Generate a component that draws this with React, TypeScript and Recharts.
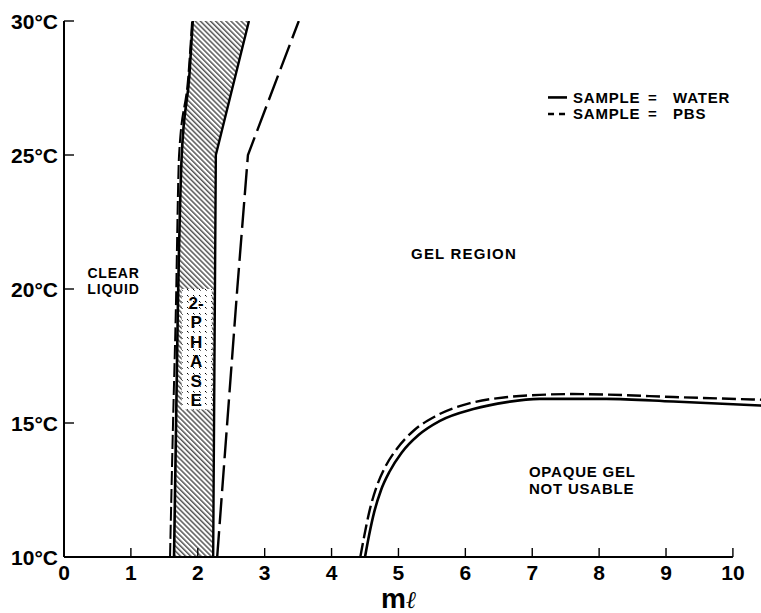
import React from 'react';
import { ScatterChart, Scatter, XAxis, YAxis, ReferenceLine, ReferenceDot } from 'recharts';

// ---- data ----
const xTicks = [0, 1, 2, 3, 4, 5, 6, 7, 8, 9, 10];
const yTicks = [10, 15, 20, 25, 30];

// clear liquid / 2-phase boundary
const waterLeft = [
  { x: 1.645, y: 10 }, { x: 1.7, y: 19 }, { x: 1.76, y: 25 }, { x: 1.875, y: 28 }, { x: 1.925, y: 30 },
];
const pbsLeft = [
  { x: 1.585, y: 10 }, { x: 1.63, y: 15 }, { x: 1.67, y: 19 }, { x: 1.72, y: 25 }, { x: 1.86, y: 28 }, { x: 1.915, y: 30 },
];
// 2-phase / gel boundary
const waterRight = [{ x: 2.23, y: 10 }, { x: 2.27, y: 25 }, { x: 2.765, y: 30 }];
const pbsRight = [{ x: 2.29, y: 10 }, { x: 2.59, y: 20 }, { x: 2.75, y: 25 }, { x: 3.51, y: 30 }];
// gel / opaque gel boundary
const waterOpaque = [
  { x: 4.5, y: 10 }, { x: 4.56, y: 10.8 }, { x: 4.64, y: 11.7 }, { x: 4.74, y: 12.5 }, { x: 4.87, y: 13.2 },
  { x: 5.05, y: 13.9 }, { x: 5.3, y: 14.55 }, { x: 5.62, y: 15.08 }, { x: 6.12, y: 15.52 }, { x: 6.62, y: 15.78 },
  { x: 7.11, y: 15.9 }, { x: 8.11, y: 15.9 }, { x: 9.11, y: 15.8 }, { x: 10.42, y: 15.65 },
];
const pbsOpaque = [
  { x: 4.43, y: 10 }, { x: 4.49, y: 10.8 }, { x: 4.57, y: 11.75 }, { x: 4.67, y: 12.6 }, { x: 4.8, y: 13.35 },
  { x: 4.98, y: 14.05 }, { x: 5.23, y: 14.72 }, { x: 5.55, y: 15.25 }, { x: 6.07, y: 15.74 }, { x: 6.6, y: 15.96 },
  { x: 7.11, y: 16.05 }, { x: 7.6, y: 16.08 }, { x: 8.11, y: 16.06 }, { x: 9.11, y: 15.97 }, { x: 10.42, y: 15.87 },
];
// "2-PHASE" label box extents
const boxX = [1.76, 2.21];
const boxY = [15.5, 20];

const phaseLetters = ['2-', 'P', 'H', 'A', 'S', 'E'];
const clearLines = ['CLEAR', 'LIQUID'];
const gelLines = ['GEL REGION'];
const opaqueLines = ['OPAQUE GEL', 'NOT USABLE'];
const legendRows = [
  { name: 'SAMPLE', value: 'WATER', dash: false },
  { name: 'SAMPLE', value: 'PBS', dash: true },
];

// derived polygons
const hatchPoly = [...waterLeft, ...waterRight.slice().reverse()];
const boxPoly = [
  { x: boxX[0], y: boxY[0] }, { x: boxX[1], y: boxY[0] }, { x: boxX[1], y: boxY[1] }, { x: boxX[0], y: boxY[1] },
];

const FONT = '"Liberation Sans", Arial, Helvetica, sans-serif';
const NARROW = '"Liberation Sans Narrow", "Arial Narrow", "Liberation Sans", Arial, sans-serif';

const NoShape = () => <g />;

const polygonLine = (fill: string) => (p: any) => {
  const pts = p.points || [];
  if (!pts.length) return <g />;
  const d = pts.map((pt: any, i: number) => `${i ? 'L' : 'M'}${pt.x},${pt.y}`).join('') + 'Z';
  return <path d={d} fill={fill} stroke="none" />;
};

const multiLine = (lines: string[], anchor: 'start' | 'middle', gap: number, size = 15, spacing = 0.8) => (props: any) => {
  const vb = props.viewBox || {};
  const cx = vb.x + (vb.width || 0) / 2;
  const cy = vb.y + (vb.height || 0) / 2;
  const top = cy - ((lines.length - 1) * gap) / 2;
  return (
    <text fontFamily={FONT} fontWeight="bold" fontSize={size} fill="#000" textAnchor={anchor} letterSpacing={spacing}>
      {lines.map((l, i) => (
        <tspan key={i} x={cx} y={top + i * gap + size * 0.36}>{l}</tspan>
      ))}
    </text>
  );
};

const legendContent = (props: any) => {
  const vb = props.viewBox || {};
  const x0 = vb.x + (vb.width || 0) / 2;
  const cy = vb.y + (vb.height || 0) / 2;
  const gap = 16.5;
  return (
    <g>
      {legendRows.map((r, i) => {
        const y = cy - gap / 2 + i * gap;
        return (
          <g key={i}>
            <line x1={x0} x2={x0 + (r.dash ? 17 : 19)} y1={y} y2={y} stroke="#000" strokeWidth={2.6}
              strokeDasharray={r.dash ? '6 5' : undefined} />
            <text fontFamily={FONT} fontWeight="bold" fontSize={15} fill="#000" y={y + 5.4} letterSpacing={0.8}>
              <tspan x={x0 + 25}>{r.name}</tspan>
              <tspan x={x0 + 100}>=</tspan>
              <tspan x={x0 + 125}>{r.value}</tspan>
            </text>
          </g>
        );
      })}
    </g>
  );
};

const mlContent = (props: any) => {
  const vb = props.viewBox || {};
  const cx = vb.x + (vb.width || 0) / 2;
  const cy = vb.y + (vb.height || 0) / 2;
  return (
    <text x={cx} y={cy + 5} textAnchor="middle" fill="#000" fontFamily={FONT} fontSize={28}>
      <tspan fontWeight="bold">m</tspan>
      <tspan fontStyle="italic" fontFamily='"DejaVu Serif", serif' fontSize={24}>ℓ</tspan>
    </text>
  );
};

const XTick = (p: any) => (
  <g>
    <line x1={p.x} x2={p.x} y1={p.y} y2={p.y - 9} stroke="#000" strokeWidth={1.4} />
    <text x={p.x} y={p.y + 23} textAnchor="middle" fontFamily={NARROW} fontWeight="bold" fontSize={21} fill="#000">
      {p.payload.value}
    </text>
  </g>
);

const YTick = (p: any) => (
  <g>
    <line x1={p.x} x2={p.x + 10} y1={p.y} y2={p.y} stroke="#000" strokeWidth={1.4} />
    <text x={p.x - 6} y={p.y + 7.5} textAnchor="end" fontFamily={FONT} fontWeight="bold" fontSize={21} fill="#000">
      {`${p.payload.value}°C`}
    </text>
  </g>
);

export default function App() {
  return (
    <div style={{ position: 'absolute', left: 0, top: 0, width: 761, height: 613, background: '#fff' }}>
      <ScatterChart width={761} height={613} margin={{ top: 21, right: 0, bottom: 0, left: 0 }}>
        <defs>
          <pattern id="hatch" patternUnits="userSpaceOnUse" width={3.6} height={3.6} patternTransform="rotate(-45)">
            <line x1={0.8} y1={0} x2={0.8} y2={3.6} stroke="#000" strokeWidth={1} />
          </pattern>
          <pattern id="dots" patternUnits="userSpaceOnUse" width={6} height={6}>
            <rect width={6} height={6} fill="#fff" />
            <line x1={1} y1={1} x2={2.6} y2={2.6} stroke="#000" strokeWidth={1} />
          </pattern>
        </defs>
        <XAxis type="number" dataKey="x" domain={[0, 10.42]} ticks={xTicks} allowDataOverflow
          axisLine={false} tickLine={false} tickSize={0} tickMargin={0} height={56} tick={<XTick />} interval={0} />
        <YAxis type="number" dataKey="y" domain={[10, 30]} ticks={yTicks} allowDataOverflow
          axisLine={{ stroke: '#000', strokeWidth: 2 }} tickLine={false} tickSize={0} tickMargin={0} width={64}
          tick={<YTick />} interval={0} />

        <Scatter data={hatchPoly} shape={NoShape} line={polygonLine('url(#hatch)')} lineType="joint" isAnimationActive={false} />
        <Scatter data={boxPoly} shape={NoShape} line={polygonLine('url(#dots)')} lineType="joint" isAnimationActive={false} />

        <Scatter data={waterLeft} shape={NoShape} line={{ stroke: '#000', strokeWidth: 2.6, fill: 'none' }}
          lineType="joint" lineJointType="monotoneX" isAnimationActive={false} />
        <Scatter data={pbsLeft} shape={NoShape} line={{ stroke: '#000', strokeWidth: 2, fill: 'none', strokeDasharray: '14 4' }}
          lineType="joint" lineJointType="monotoneX" isAnimationActive={false} />
        <Scatter data={waterRight} shape={NoShape} line={{ stroke: '#000', strokeWidth: 2.4, fill: 'none' }}
          lineType="joint" lineJointType="linear" isAnimationActive={false} />
        <Scatter data={pbsRight} shape={NoShape} line={{ stroke: '#000', strokeWidth: 2.4, fill: 'none', strokeDasharray: '26 7' }}
          lineType="joint" lineJointType="linear" isAnimationActive={false} />
        <Scatter data={waterOpaque} shape={NoShape} line={{ stroke: '#000', strokeWidth: 2.6, fill: 'none' }}
          lineType="joint" lineJointType="monotoneX" isAnimationActive={false} />
        <Scatter data={pbsOpaque} shape={NoShape} line={{ stroke: '#000', strokeWidth: 2.4, fill: 'none', strokeDasharray: '14 5' }}
          lineType="joint" lineJointType="monotoneX" isAnimationActive={false} />

        <ReferenceLine segment={[{ x: 0, y: 10 }, { x: 10, y: 10 }]} stroke="#000" strokeWidth={2} ifOverflow="visible" />

        <ReferenceDot x={1.975} y={17.67} r={0} fill="none" stroke="none"
          label={{ content: multiLine(phaseLetters, 'middle', 19.4, 17, 0) }} />
        <ReferenceDot x={0.74} y={20.3} r={0} fill="none" stroke="none"
          label={{ content: multiLine(clearLines, 'middle', 16, 14, 0.8) }} />
        <ReferenceDot x={5.98} y={21.32} r={0} fill="none" stroke="none"
          label={{ content: multiLine(gelLines, 'middle', 15, 15, 1.2) }} />
        <ReferenceDot x={6.95} y={12.86} r={0} fill="none" stroke="none"
          label={{ content: multiLine(opaqueLines, 'start', 17.3) }} />
        <ReferenceDot x={7.236} y={26.84} r={0} fill="none" stroke="none" label={{ content: legendContent }} />
        <ReferenceDot x={5} y={8.3} r={0} fill="none" stroke="none" ifOverflow="visible" label={{ content: mlContent }} />
      </ScatterChart>
    </div>
  );
}
